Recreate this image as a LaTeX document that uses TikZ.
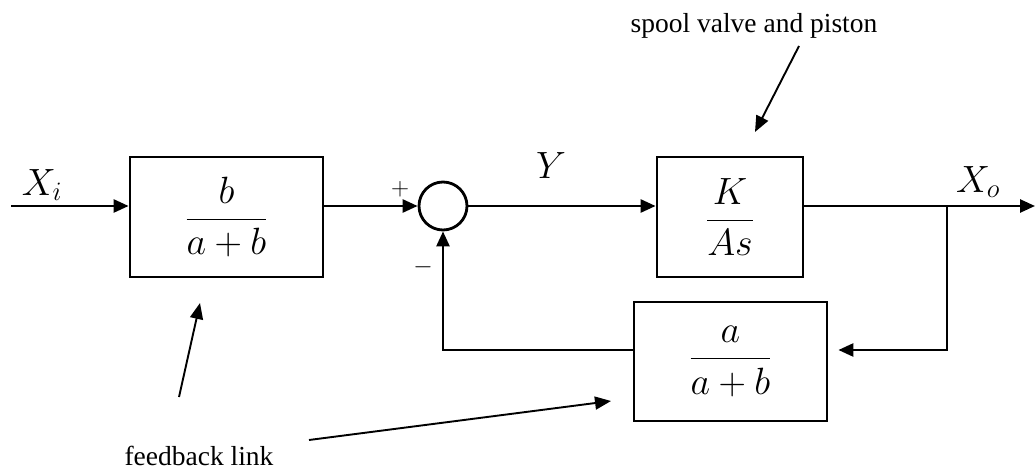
\RequirePackage{fix-cm}
\documentclass[tikz,border=0pt]{standalone}
\usepackage{amsmath}
\usepackage{fontspec}
\newfontfamily\tnr{Liberation Serif}
\usetikzlibrary{arrows.meta}
\begin{document}
\begin{tikzpicture}[x=1pt,y=1pt,
  line width=2.6pt,
  >={Triangle[length=15pt,width=13pt]},
  blk/.style={draw, line width=2.8pt, inner sep=0pt, font=\fontsize{38}{44}\selectfont},
  sumc/.style={draw, circle, line width=2.8pt, minimum size=48pt, inner sep=0pt},
  lbl/.style={font=\fontsize{38}{44}\selectfont, inner sep=0pt},
  sgn/.style={font=\fontsize{25}{30}\selectfont, inner sep=0pt},
  note/.style={font=\tnr\fontsize{27.5}{32}\selectfont, inner sep=0pt, anchor=base},
  notearrow/.style={->, line width=1.9pt, >={Triangle[length=16pt,width=13pt]}}
]
\useasboundingbox (0,0) rectangle (1035,474);

% blocks
\node[blk, minimum width=193pt, minimum height=120pt] (b1) at (226.5,257) {$\dfrac{b}{a+b}$};
\node[sumc] (c) at (443,268) {};
\node[blk, minimum width=146pt, minimum height=120pt] (b2) at (730,257) {$\dfrac{K}{As}$};
\node[blk, minimum width=193pt, minimum height=119pt] (b3) at (730.5,112.5) {$\dfrac{a}{a+b}$};

% signal coordinates
\coordinate (in) at (11,268);
\coordinate (out) at (1035,268);
\coordinate (br) at (947,268);
\coordinate (fb) at (947,124);

% connectors
\draw[->] (in) -- (in -| b1.west);
\draw[->] (c -| b1.east) -- (c.west);
\draw[->] (c.east) -- (c -| b2.west);
\draw[->] (c -| b2.east) -- (out);
\draw[->, shorten >=10pt] (br) -- (fb) -- (fb -| b3.east);
\draw[->] (fb -| b3.west) -| (c.south);

% signal labels
\node[lbl] (xi) at (42,289) {$X_i$};
\node[lbl] (y) at (551,308) {$Y$};
\node[lbl] (xo) at (978,292) {$X_o$};
\node[sgn] (plus) at (400,285) {$+$};
\node[sgn] (minus) at (423,207) {$-$};

% annotations
\node[note] (spool) at (754,441) {spool valve and piston};
\node[note] (fbl) at (199,9) {feedback link};
\coordinate (s1) at (799,428);
\coordinate (s2) at (755,342);
\coordinate (f1) at (179,77);
\coordinate (f2) at (200,171);
\coordinate (g1) at (309,34);
\coordinate (g2) at (611,73);
\draw[notearrow] (s1) -- (s2);
\draw[notearrow] (f1) -- (f2);
\draw[notearrow] (g1) -- (g2);
\end{tikzpicture}
\end{document}
